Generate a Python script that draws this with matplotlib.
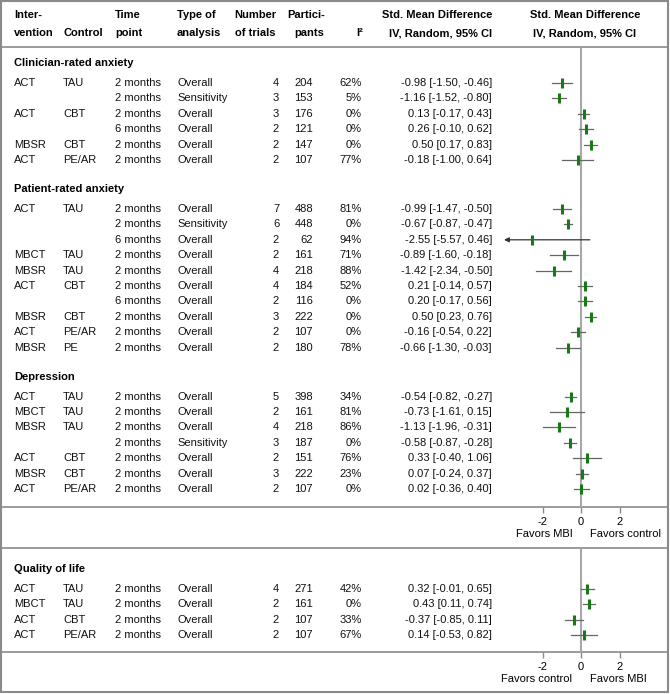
import matplotlib
matplotlib.use('Agg')
import matplotlib.pyplot as plt
from matplotlib.patches import Rectangle

plt.rcParams['font.family'] = ['Liberation Sans', 'DejaVu Sans']
plt.rcParams['axes.unicode_minus'] = False

# data
sections = ['Clinician-rated anxiety', 'Patient-rated anxiety', 'Depression', 'Quality of life']
section = [0, 0, 0, 0, 0, 0,
           1, 1, 1, 1, 1, 1, 1, 1, 1, 1,
           2, 2, 2, 2, 2, 2, 2,
           3, 3, 3, 3]
intervention = ['ACT', '', 'ACT', '', 'MBSR', 'ACT',
                'ACT', '', '', 'MBCT', 'MBSR', 'ACT', '', 'MBSR', 'ACT', 'MBSR',
                'ACT', 'MBCT', 'MBSR', '', 'ACT', 'MBSR', 'ACT',
                'ACT', 'MBCT', 'ACT', 'ACT']
control = ['TAU', '', 'CBT', '', 'CBT', 'PE/AR',
           'TAU', '', '', 'TAU', 'TAU', 'CBT', '', 'CBT', 'PE/AR', 'PE',
           'TAU', 'TAU', 'TAU', '', 'CBT', 'CBT', 'PE/AR',
           'TAU', 'TAU', 'CBT', 'PE/AR']
time_point = ['2 months', '2 months', '2 months', '6 months', '2 months', '2 months',
              '2 months', '2 months', '6 months', '2 months', '2 months', '2 months',
              '6 months', '2 months', '2 months', '2 months',
              '2 months', '2 months', '2 months', '2 months', '2 months', '2 months', '2 months',
              '2 months', '2 months', '2 months', '2 months']
analysis = ['Overall', 'Sensitivity', 'Overall', 'Overall', 'Overall', 'Overall',
            'Overall', 'Sensitivity', 'Overall', 'Overall', 'Overall', 'Overall',
            'Overall', 'Overall', 'Overall', 'Overall',
            'Overall', 'Overall', 'Overall', 'Sensitivity', 'Overall', 'Overall', 'Overall',
            'Overall', 'Overall', 'Overall', 'Overall']
n_trials = [4, 3, 3, 2, 2, 2,
            7, 6, 2, 2, 4, 4, 2, 3, 2, 2,
            5, 2, 4, 3, 2, 3, 2,
            4, 2, 2, 2]
participants = [204, 153, 176, 121, 147, 107,
                488, 448, 62, 161, 218, 184, 116, 222, 107, 180,
                398, 161, 218, 187, 151, 222, 107,
                271, 161, 107, 107]
i2 = [62, 5, 0, 0, 0, 77,
      81, 0, 94, 71, 88, 52, 0, 0, 0, 78,
      34, 81, 86, 0, 76, 23, 0,
      42, 0, 33, 67]
smd = [-0.98, -1.16, 0.13, 0.26, 0.50, -0.18,
       -0.99, -0.67, -2.55, -0.89, -1.42, 0.21, 0.20, 0.50, -0.16, -0.66,
       -0.54, -0.73, -1.13, -0.58, 0.33, 0.07, 0.02,
       0.32, 0.43, -0.37, 0.14]
ci_lo = [-1.50, -1.52, -0.17, -0.10, 0.17, -1.00,
         -1.47, -0.87, -5.57, -1.60, -2.34, -0.14, -0.17, 0.23, -0.54, -1.30,
         -0.82, -1.61, -1.96, -0.87, -0.40, -0.24, -0.36,
         -0.01, 0.11, -0.85, -0.53]
ci_hi = [-0.46, -0.80, 0.43, 0.62, 0.83, 0.64,
         -0.50, -0.47, 0.46, -0.18, -0.50, 0.57, 0.56, 0.76, 0.22, -0.03,
         -0.27, 0.15, -0.31, -0.28, 1.06, 0.37, 0.40,
         0.65, 0.74, 0.11, 0.82]
favors = [('Favors MBI', 'Favors control'), ('Favors control', 'Favors MBI')]
ticks = [-2, 0, 2]

W, H = 670, 694
fig = plt.figure(figsize=(W / 100, H / 100), dpi=100)
bg = fig.add_axes([0, 0, 1, 1])
bg.set_xlim(0, W)
bg.set_ylim(H, 0)
bg.axis('off')

fs = 8
line_c = '#8a8a8a'

# layout of rows
row_y = [0.0] * len(smd)
header_y = []
y = 63
for s in range(len(sections)):
    if s == 3:
        y = 569
    header_y.append(y)
    y += 20
    for i in range(len(smd)):
        if section[i] == s:
            row_y[i] = y
            y += 15.4
    y += 29 - 15.4

# column header
hdr = dict(fontsize=fs, fontweight='bold', va='center')
bg.text(14, 15, 'Inter-', ha='left', **hdr)
bg.text(14, 33, 'vention', ha='left', **hdr)
bg.text(63, 33, 'Control', ha='left', **hdr)
bg.text(115, 15, 'Time', ha='left', **hdr)
bg.text(115, 33, 'point', ha='left', **hdr)
bg.text(177, 15, 'Type of', ha='left', **hdr)
bg.text(177, 33, 'analysis', ha='left', **hdr)
bg.text(255, 15, 'Number', ha='center', **hdr)
bg.text(255, 33, 'of trials', ha='center', **hdr)
bg.text(306, 15, 'Partici-', ha='center', **hdr)
bg.text(309, 33, 'pants', ha='center', **hdr)
bg.text(360, 33, 'I²', ha='center', **hdr)
bg.text(492, 15, 'Std. Mean Difference', ha='right', **hdr)
bg.text(492, 33, 'IV, Random, 95% CI', ha='right', **hdr)
bg.text(585, 15, 'Std. Mean Difference', ha='center', **hdr)
bg.text(585, 33, 'IV, Random, 95% CI', ha='center', **hdr)

for s, name in enumerate(sections):
    bg.text(14, header_y[s], name, fontsize=fs, fontweight='bold', va='center')

for i in range(len(smd)):
    yy = row_y[i]
    kw = dict(fontsize=fs, va='center', color='#111111')
    bg.text(14, yy, intervention[i], ha='left', **kw)
    bg.text(63, yy, control[i], ha='left', **kw)
    bg.text(115, yy, time_point[i], ha='left', **kw)
    bg.text(177, yy, analysis[i], ha='left', **kw)
    bg.text(276, yy, str(n_trials[i]), ha='center', **kw)
    bg.text(313, yy, str(participants[i]), ha='right', **kw)
    bg.text(362, yy, f'{i2[i]}%', ha='right', **kw)
    bg.text(492, yy, f'{smd[i]:.2f} [{ci_lo[i]:.2f}, {ci_hi[i]:.2f}]', ha='right', **kw)

# table lines
for yl in [47, 507, 548, 652]:
    bg.plot([1, 668], [yl, yl], color=line_c, lw=1.2)
bg.add_patch(Rectangle((1, 1), 667, 691, fill=False, edgecolor=line_c, lw=1.5))

# forest panels
x_left, x_zero, px_unit = 504, 581, 19.25
xmin = (x_left - x_zero) / px_unit
xmax = (668 - x_zero) / px_unit
panels = [([0, 1, 2], 48, 507), ([3], 548, 652)]
for p, (secs, top, bottom) in enumerate(panels):
    ax = fig.add_axes([x_left / W, 1 - bottom / H, (668 - x_left) / W, (bottom - top) / H])
    ax.patch.set_alpha(0)
    ax.set_xlim(xmin, xmax)
    ax.set_ylim(bottom, top)
    for sp in ax.spines.values():
        sp.set_visible(False)
    ax.set_yticks([])
    ax.set_xticks(ticks)
    ax.set_xticklabels([str(t) for t in ticks], fontsize=fs)
    ax.tick_params(axis='x', length=4, width=1, color=line_c, pad=3)
    ax.axvline(0, color='#a8a8a8', lw=1.5, zorder=1)
    for i in range(len(smd)):
        if section[i] not in secs:
            continue
        yy = row_y[i]
        if ci_lo[i] < xmin:
            ax.annotate('', xy=(xmin, yy), xytext=(ci_hi[i], yy),
                        arrowprops=dict(arrowstyle='-|>', color='#333333', lw=0.9,
                                        mutation_scale=7, shrinkA=0, shrinkB=0))
        else:
            ax.plot([ci_lo[i], ci_hi[i]], [yy, yy], color='#666666', lw=0.9, zorder=2)
        ax.plot(smd[i], yy, marker='|', ms=7, mew=2.2, color='#167a16', zorder=3)
    ax.text(-0.45, bottom + 27, favors[p][0], ha='right', va='center', fontsize=fs, clip_on=False)
    ax.text(0.45, bottom + 27, favors[p][1], ha='left', va='center', fontsize=fs, clip_on=False)

fig.savefig('out.png', dpi=100)
